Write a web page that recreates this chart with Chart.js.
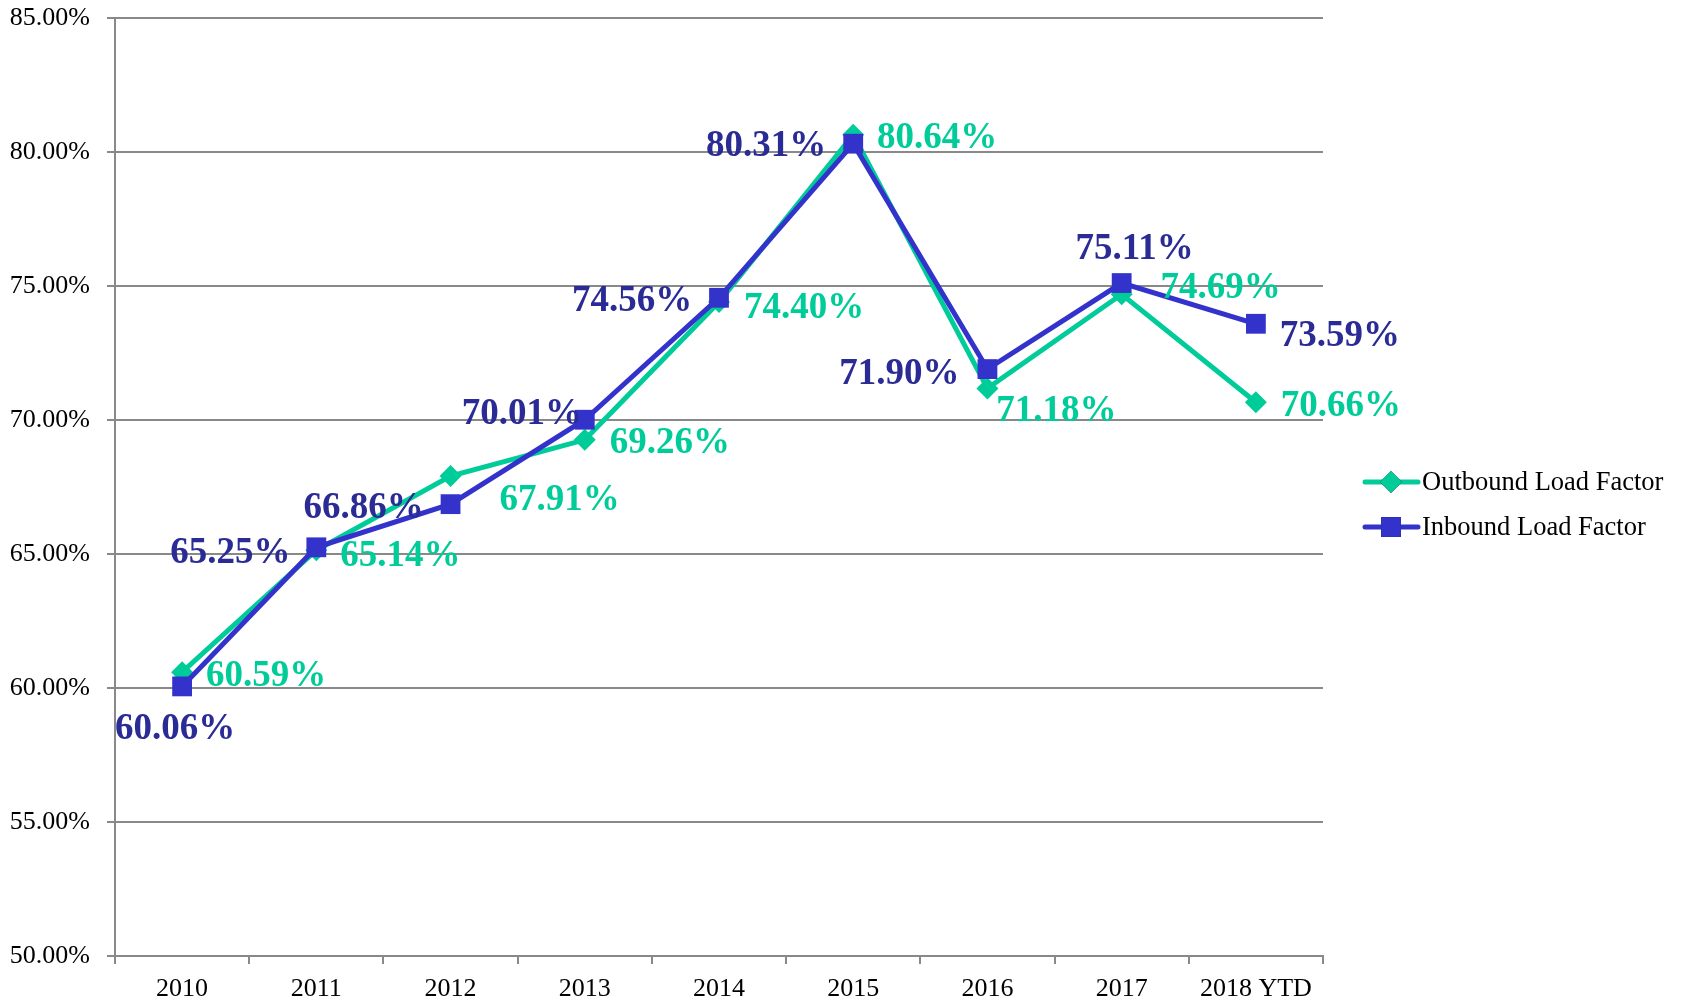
<!DOCTYPE html>
<html>
<head>
<meta charset="utf-8">
<script src="https://cdn.jsdelivr.net/npm/chart.js@4.4.1/dist/chart.umd.min.js"></script>
<style>
    html, body { margin: 0; padding: 0; background: #fff; }
    #wrap { position: relative; width: 1682px; height: 1000px; }
</style>
</head>
<body>
<div id="wrap"><canvas id="loadFactor"></canvas></div>
<script>
// chart data
const years = ['2010', '2011', '2012', '2013', '2014', '2015', '2016', '2017', '2018 YTD'];
const outboundValues = [60.59, 65.14, 67.91, 69.26, 74.40, 80.64, 71.18, 74.69, 70.66];
const inboundValues = [60.06, 65.25, 66.86, 70.01, 74.56, 80.31, 71.90, 75.11, 73.59];
const seriesNames = ['Outbound Load Factor', 'Inbound Load Factor'];

// where each value label sits relative to its point [dx, dy]
const outboundLabelShift = [[84, 0], [84, 2], [109, 20], [85, 0], [85, 2], [84, 0], [69, 19], [99, -10], [85, 0]];
const inboundLabelShift = [[-7, 39], [-86, 2], [-87, 0], [-63, -9], [-87, 0], [-87, -1], [-88, 1], [13, -38], [84, 9]];

const outColor = '#00CC99';
const inColor = '#3333CC';
const inLabelColor = '#2B2B96';
const gray = '#898989';
const serif = '"Liberation Serif", "Times New Roman", serif';

const valueLabels = {
    id: 'valueLabels',
    afterDatasetsDraw(chart) {
        const ctx = chart.ctx;
        const shifts = [outboundLabelShift, inboundLabelShift];
        const colors = [outColor, inLabelColor];
        ctx.save();
        ctx.font = 'bold 37px ' + serif;
        ctx.textAlign = 'center';
        ctx.textBaseline = 'middle';
        chart.data.datasets.forEach((ds, i) => {
            const meta = chart.getDatasetMeta(i);
            ctx.fillStyle = colors[i];
            meta.data.forEach((pt, j) => {
                const s = shifts[i][j];
                ctx.fillText(ds.data[j].toFixed(2) + '%', pt.x + s[0], pt.y + s[1] + 4);
            });
        });
        ctx.restore();
    }
};

const sideLegend = {
    id: 'sideLegend',
    afterDraw(chart) {
        const ctx = chart.ctx;
        const rows = [482, 527];
        ctx.save();
        chart.data.datasets.forEach((ds, i) => {
            const y = rows[i];
            ctx.strokeStyle = ds.borderColor;
            ctx.lineWidth = 5;
            ctx.lineCap = 'round';
            ctx.beginPath();
            ctx.moveTo(1365, y);
            ctx.lineTo(1418, y);
            ctx.stroke();
            Chart.helpers.drawPoint(ctx, {
                pointStyle: ds.pointStyle,
                radius: ds.pointRadius,
                borderWidth: 0
            }, 1391, y);
            ctx.fillStyle = ds.backgroundColor;
            ctx.fill();
            ctx.fillStyle = '#000';
            ctx.font = '26.5px ' + serif;
            ctx.textAlign = 'left';
            ctx.textBaseline = 'middle';
            ctx.fillText(ds.label, 1422, y + 1);
        });
        ctx.restore();
    }
};

const chartCtx = document.getElementById('loadFactor').getContext('2d');

new Chart(chartCtx, {
    type: 'line',
    data: {
        labels: years,
        datasets: [{
            label: seriesNames[0],
            data: outboundValues,
            borderColor: outColor,
            backgroundColor: outColor,
            borderWidth: 5,
            pointStyle: 'rectRot',
            pointRadius: 11,
            pointBorderWidth: 0,
            tension: 0,
            order: 2
        }, {
            label: seriesNames[1],
            data: inboundValues,
            borderColor: inColor,
            backgroundColor: inColor,
            borderWidth: 5,
            pointStyle: 'rect',
            pointRadius: 14,
            pointBorderWidth: 0,
            tension: 0,
            order: 1
        }]
    },
    options: {
        responsive: true,
        maintainAspectRatio: false,
        animation: false,
        layout: {
            padding: { top: 18, right: 359, bottom: 0, left: 0 }
        },
        plugins: {
            legend: { display: false },
            tooltip: { enabled: false }
        },
        scales: {
            x: {
                offset: true,
                grid: {
                    offset: true,
                    drawOnChartArea: false,
                    drawTicks: true,
                    tickLength: 8,
                    color: gray,
                    lineWidth: 2
                },
                border: { color: gray, width: 2 },
                ticks: {
                    color: '#000',
                    font: { family: serif, size: 26 },
                    padding: 10,
                    maxRotation: 0,
                    autoSkip: false
                },
                afterFit(scale) {
                    scale.height = 44;
                    scale.paddingLeft = 0;
                    scale.paddingRight = 0;
                }
            },
            y: {
                min: 50,
                max: 85,
                grid: {
                    color: gray,
                    lineWidth: 2,
                    tickLength: 8
                },
                border: { color: gray, width: 2 },
                ticks: {
                    stepSize: 5,
                    color: '#000',
                    padding: 17,
                    font: { family: serif, size: 26 },
                    callback: (v) => v.toFixed(2) + '%'
                },
                afterFit(scale) {
                    scale.width = 115;
                    scale.paddingTop = 0;
                    scale.paddingBottom = 0;
                }
            }
        }
    },
    plugins: [valueLabels, sideLegend]
});
</script>
</body>
</html>
